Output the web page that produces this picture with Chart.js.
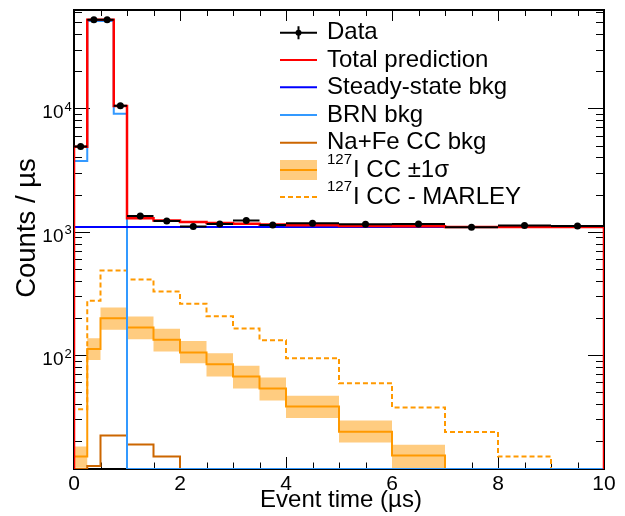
<!DOCTYPE html>
<html>
<head>
<meta charset="utf-8">
<script src="https://cdn.jsdelivr.net/npm/chart.js@4.4.1/dist/chart.umd.min.js"></script>
<style>
  html, body { margin: 0; padding: 0; background: #fff; }
  #c { display: block; }
</style>
</head>
<body>
<canvas id="c" width="625" height="516" style="width:625px;height:516px"></canvas>
<script>
// Bin edges in µs (data and predictions share the same binning)
const binEdges = [0, 0.25, 0.5, 0.75, 1, 1.5, 2, 2.5, 3, 3.5, 4, 5, 6, 7, 8, 9, 10];

// Measured counts per µs
const dataCounts = [4900, 52300, 52300, 10500, 1343, 1223, 1100, 1157, 1230, 1135, 1172, 1150, 1157, 1088, 1121, 1114];

// Predictions per bin (counts / µs)
const totalPrediction = [4880, 52300, 52300, 10470, 1285, 1232, 1198, 1178, 1158, 1143, 1128, 1114, 1106, 1091, 1091, 1091];
const steadyStateBkg  = [1090, 1090, 1090, 1090, 1090, 1090, 1090, 1090, 1090, 1090, 1090, 1090, 1090, 1090, 1090, 1090];
const brnBkg          = [3750, 51100, 51100, 9060, 0, 0, 0, 0, 0, 0, 0, 0, 0, 0, 0, 0];
const naFeCCBkg       = [0, 12.6, 22.2, 22.2, 18.8, 15.0, 0, 0, 0, 0, 0, 0, 0, 0, 0, 0];
const iodineCC        = [15.0, 112, 199, 199, 167, 133, 105, 84.3, 66.9, 53.5, 38.2, 23.9, 15.3, 0, 0, 0];
const iodineCCLow     = [12.2, 91.3, 160, 160, 134.4, 106.7, 85.9, 66.9, 53.5, 42.7, 30.8, 19.5, 12.1, 0, 0, 0];
const iodineCCHigh    = [18.1, 137, 242.5, 242.5, 205, 163, 130, 103.5, 81.7, 65.7, 46.7, 29.4, 18.7, 0, 0, 0];
const iodineMarley    = [36.4, 275, 484, 484, 409, 327, 260, 206, 164, 132, 94.3, 59.1, 37.5, 23.7, 15.0, 0];

// Axis ranges and tick labels
const X_MIN = 0, X_MAX = 10;
const Y_MIN = 11.9, Y_MAX = 62800;
const xTickLabels = [0, 2, 4, 6, 8, 10];
const xMinorStep = 0.5;
const yDecades = [100, 1000, 10000];
const yExponents = ['2', '3', '4'];

const legendEntries = [
  { kind: 'data',   text: 'Data' },
  { kind: 'line',   text: 'Total prediction',  color: '#ff0000' },
  { kind: 'line',   text: 'Steady-state bkg',  color: '#0000ff' },
  { kind: 'line',   text: 'BRN bkg',           color: '#3399ff' },
  { kind: 'line',   text: 'Na+Fe CC bkg',      color: '#cc6600' },
  { kind: 'band',   sup: '127', text: 'I CC \u00b11\u03c3', color: '#ff9900', fillColor: '#ffcc80' },
  { kind: 'dashed', sup: '127', text: 'I CC - MARLEY', color: '#ff9900' }
];

const FONT = '"Liberation Sans", Arial, Helvetica, sans-serif';

// Histogram outline: step line over the bins, closed down to the frame floor
function histPoints(edges, vals) {
  const f = v => Math.max(v, Y_MIN);
  const pts = [{ x: edges[0], y: Y_MIN }];
  vals.forEach((v, i) => pts.push({ x: edges[i], y: f(v) }));
  pts.push({ x: edges[edges.length - 1], y: f(vals[vals.length - 1]) });
  pts.push({ x: edges[edges.length - 1], y: Y_MIN });
  return pts;
}
// Horizontal error bars spanning each data bin
function xErrSegments(edges, vals) {
  const pts = [];
  vals.forEach((v, i) => {
    pts.push({ x: edges[i], y: v }, { x: edges[i + 1], y: v }, { x: edges[i + 1], y: null });
  });
  return pts;
}
function binCenters(edges, vals) {
  return vals.map((v, i) => ({ x: (edges[i] + edges[i + 1]) / 2, y: v }));
}

const histStyle = (color, width) => ({
  borderColor: color, borderWidth: width, stepped: true, pointRadius: 0, fill: false
});

const frameAndAxes = {
  id: 'frameAndAxes',
  beforeDatasetsDraw(chart) {
    const { ctx, chartArea: a, scales: { x, y } } = chart;
    ctx.save();
    ctx.strokeStyle = '#000';
    ctx.lineWidth = 1;
    ctx.beginPath();
    const nx = Math.round((X_MAX - X_MIN) / xMinorStep);
    for (let i = 0; i <= nx; i++) {
      const t = X_MIN + i * xMinorStep;
      const px = Math.round(x.getPixelForValue(t)) + 0.5;
      const major = xTickLabels.includes(t);
      const lb = major ? 12 : 6.5, lt = major ? 11 : 6;
      ctx.moveTo(px, a.bottom); ctx.lineTo(px, a.bottom - lb);
      ctx.moveTo(px, a.top); ctx.lineTo(px, a.top + lt);
    }
    for (let d = 10; d <= 10000; d *= 10) {
      for (let m = 1; m <= 9; m++) {
        const v = m * d;
        if (v < Y_MIN || v > Y_MAX) continue;
        const py = Math.round(y.getPixelForValue(v)) + 0.5;
        const len = m === 1 ? 16 : 8;
        ctx.moveTo(a.left, py); ctx.lineTo(a.left + len, py);
        ctx.moveTo(a.right, py); ctx.lineTo(a.right - len, py);
      }
    }
    ctx.stroke();
    ctx.lineWidth = 2;
    ctx.strokeRect(a.left, a.top, a.right - a.left, a.bottom - a.top);
    ctx.restore();
  },
  afterDraw(chart) {
    const { ctx, chartArea: a, scales: { x, y } } = chart;
    ctx.save();
    ctx.fillStyle = '#000';
    // x tick labels
    ctx.font = '21px ' + FONT;
    ctx.textAlign = 'center';
    ctx.textBaseline = 'alphabetic';
    xTickLabels.forEach(t => ctx.fillText(String(t), x.getPixelForValue(t), 489.5));
    // y tick labels: 10 with exponent
    yDecades.forEach((v, i) => {
      const py = y.getPixelForValue(v);
      ctx.font = '19px ' + FONT;
      ctx.textAlign = 'right';
      ctx.fillText('10', 63.5, py + 10);
      ctx.font = '13px ' + FONT;
      ctx.textAlign = 'left';
      ctx.fillText(yExponents[i], 64.5, py + 2.5);
    });
    // axis titles
    ctx.font = '24px ' + FONT;
    ctx.textAlign = 'center';
    ctx.fillText('Event time (\u00b5s)', (a.left + a.right) / 2 + 2, 507);
    ctx.save();
    ctx.translate(35, 228);
    ctx.rotate(-Math.PI / 2);
    ctx.font = '27.5px ' + FONT;
    ctx.fillText('Counts / \u00b5s', 0, 0);
    ctx.restore();

    // legend
    const rowY = [32.7, 60, 87.3, 115, 142.7, 170, 197];
    const sx0 = 280, sx1 = 317, tx = 327;
    legendEntries.forEach((e, i) => {
      const ry = rowY[i];
      ctx.save();
      if (e.kind === 'data') {
        ctx.strokeStyle = '#000'; ctx.lineWidth = 2;
        ctx.beginPath();
        ctx.moveTo(sx0, ry); ctx.lineTo(sx1, ry);
        ctx.moveTo((sx0 + sx1) / 2, ry - 6.5); ctx.lineTo((sx0 + sx1) / 2, ry + 6.5);
        ctx.stroke();
        ctx.fillStyle = '#000';
        ctx.beginPath(); ctx.arc((sx0 + sx1) / 2, ry, 3, 0, Math.PI * 2); ctx.fill();
      } else if (e.kind === 'band') {
        ctx.fillStyle = e.fillColor;
        ctx.fillRect(sx0, ry - 10, sx1 - sx0, 20);
        ctx.strokeStyle = e.color; ctx.lineWidth = 2;
        ctx.beginPath(); ctx.moveTo(sx0, ry); ctx.lineTo(sx1, ry); ctx.stroke();
      } else {
        ctx.strokeStyle = e.color; ctx.lineWidth = 2;
        if (e.kind === 'dashed') ctx.setLineDash([5, 3]);
        ctx.beginPath(); ctx.moveTo(sx0, ry); ctx.lineTo(sx1, ry); ctx.stroke();
      }
      ctx.restore();
      ctx.fillStyle = '#000';
      ctx.textAlign = 'left';
      let cx = tx;
      if (e.sup) {
        ctx.font = '15px ' + FONT;
        ctx.textBaseline = 'alphabetic';
        ctx.fillText(e.sup, cx, ry - 6.5);
        cx += ctx.measureText(e.sup).width + 1;
      }
      ctx.font = '24px ' + FONT;
      ctx.textBaseline = 'middle';
      ctx.fillText(e.text, cx, ry);
    });
    ctx.restore();
  }
};

new Chart(document.getElementById('c'), {
  type: 'line',
  data: {
    datasets: [
      { label: 'Data', data: binCenters(binEdges, dataCounts), showLine: false,
        pointRadius: 3.5, pointBackgroundColor: '#000', pointBorderColor: '#000', pointBorderWidth: 0 },
      { label: 'Data x-error', data: xErrSegments(binEdges, dataCounts), borderColor: '#000',
        borderWidth: 2, pointRadius: 0, spanGaps: false, fill: false },
      { label: 'Total prediction', data: histPoints(binEdges, totalPrediction), ...histStyle('#ff0000', 2.5) },
      { label: 'Steady-state bkg', data: histPoints(binEdges, steadyStateBkg), ...histStyle('#0000ff', 2) },
      { label: 'BRN bkg', data: histPoints(binEdges, brnBkg), ...histStyle('#3399ff', 2) },
      { label: 'Na+Fe CC bkg', data: histPoints(binEdges, naFeCCBkg), ...histStyle('#cc6600', 2) },
      { label: '127I CC', data: histPoints(binEdges, iodineCC), ...histStyle('#ff9900', 2) },
      { label: '127I CC - MARLEY', data: histPoints(binEdges, iodineMarley), ...histStyle('#ff9900', 2),
        borderDash: [5, 3] },
      { label: '127I CC +1σ', data: histPoints(binEdges, iodineCCHigh), stepped: true, pointRadius: 0,
        borderWidth: 0, borderColor: 'rgba(0,0,0,0)', backgroundColor: '#ffcc80', fill: '+1' },
      { label: '127I CC -1σ', data: histPoints(binEdges, iodineCCLow), stepped: true, pointRadius: 0,
        borderWidth: 0, borderColor: 'rgba(0,0,0,0)', fill: false }
    ]
  },
  options: {
    responsive: false,
    animation: false,
    devicePixelRatio: 1,
    layout: { padding: { left: 74, right: 21, top: 10, bottom: 47 } },
    scales: {
      x: { type: 'linear', min: X_MIN, max: X_MAX, display: false },
      y: { type: 'logarithmic', min: Y_MIN, max: Y_MAX, display: false }
    },
    elements: { line: { tension: 0 } },
    plugins: { legend: { display: false }, tooltip: { enabled: false } }
  },
  plugins: [frameAndAxes]
});
</script>
</body>
</html>
